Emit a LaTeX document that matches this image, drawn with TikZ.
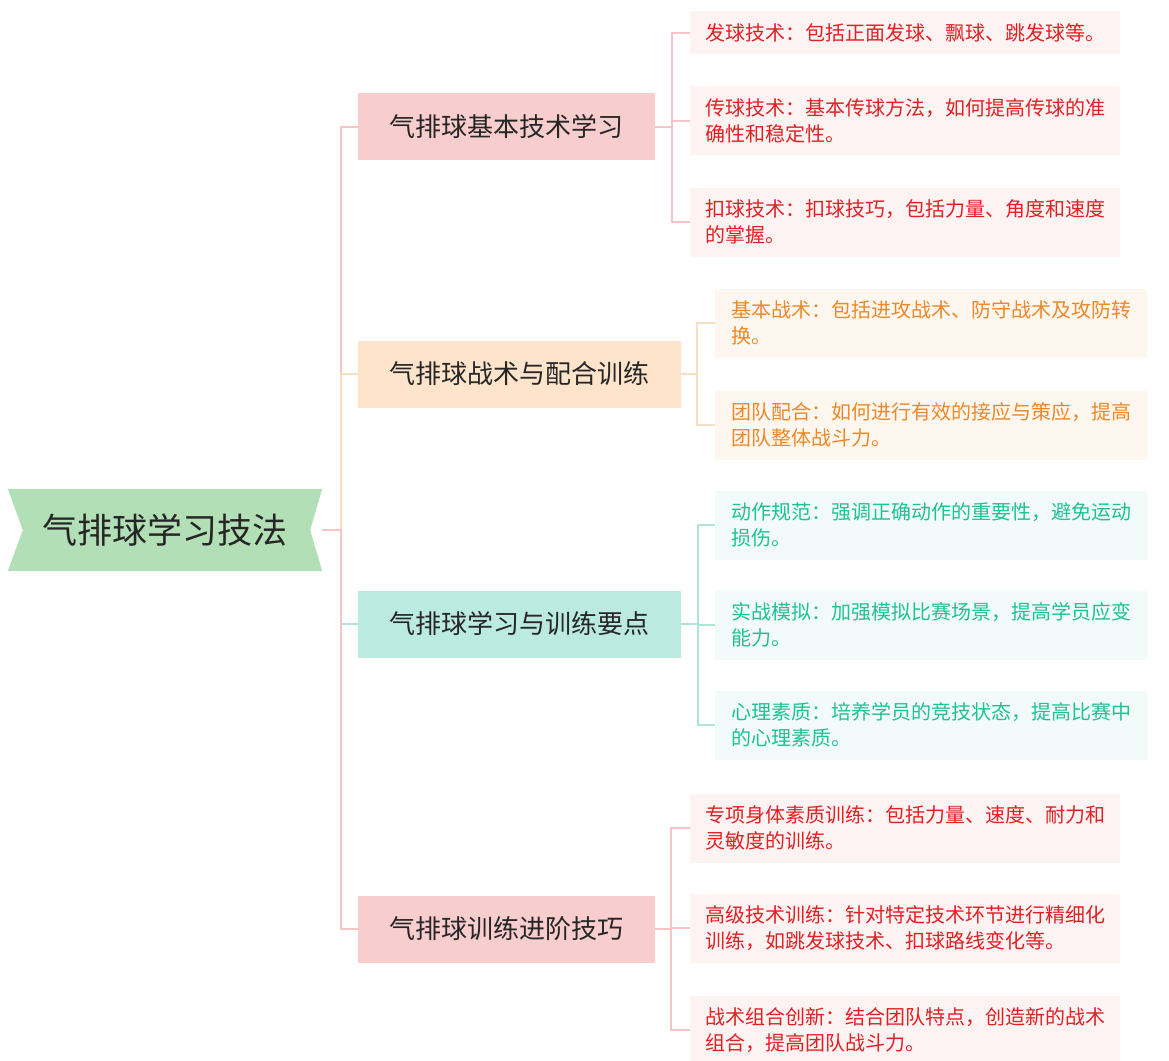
\documentclass[tikz,border=0pt]{standalone}
\usepackage{fontspec}
\setmainfont{Noto Sans CJK SC}
\usepackage{tikz}
\usetikzlibrary{positioning,backgrounds}
\definecolor{rootfill}{RGB}{179,223,182}
\definecolor{pinkfill}{RGB}{248,205,205}
\definecolor{orangefill}{RGB}{253,228,202}
\definecolor{tealfill}{RGB}{187,234,225}
\definecolor{pinkline}{RGB}{245,196,199}
\definecolor{orangeline}{RGB}{251,222,192}
\definecolor{tealline}{RGB}{176,228,216}
\definecolor{pinkleaf}{RGB}{253,243,243}
\definecolor{orangeleaf}{RGB}{254,247,239}
\definecolor{tealleaf}{RGB}{242,251,249}
\definecolor{redtext}{RGB}{226,32,36}
\definecolor{orangetext}{RGB}{238,136,40}
\definecolor{tealtext}{RGB}{30,194,150}
\definecolor{topictext}{RGB}{38,38,38}
\tikzset{root node/.style={minimum width=314pt,minimum height=82pt,inner sep=0pt,font=\fontsize{35}{40}\selectfont,text=topictext}}
\tikzset{topic/.style={anchor=west,inner xsep=31.5pt,inner ysep=0pt,minimum height=67pt,font=\fontsize{26}{30}\selectfont,text=topictext}}
\tikzset{leaf/.style={anchor=west,align=left,inner xsep=13pt,inner ysep=0pt,minimum width=430pt,minimum height=69pt,font=\fontsize{20}{26}\selectfont}}
\tikzset{link/.style={line width=2pt}}

\begin{document}
\begin{tikzpicture}[x=1pt,y=-1pt]
            \useasboundingbox (0,0) rectangle (1169,1060);
            % root ribbon
            \node[root node] (root) at (165,530) {气排球学习技法};
            \begin{scope}[on background layer]
            \fill[rootfill] (root.north west) -- (root.north east) -- ([xshift=-12pt]root.east) -- (root.south east)
                -- (root.south west) -- ([xshift=15pt]root.west) -- cycle;
            \end{scope}
            \coordinate (trunk) at (341,530);

            % main topics
            \node[topic, fill=pinkfill] (b1) at (358,126.5) {气排球基本技术学习};
            \node[topic, fill=orangefill] (b2) at (358,374) {气排球战术与配合训练};
            \node[topic, fill=tealfill] (b3) at (358,624) {气排球学习与训练要点};
            \node[topic, fill=pinkfill] (b4) at (358,929) {气排球训练进阶技巧};

            \coordinate[right=17pt of b1.east] (j1);
            \coordinate[right=16pt of b2.east] (j2);
            \coordinate[right=17pt of b3.east] (j3);
            \coordinate[right=16pt of b4.east] (j4);

            % leaves
            \node[leaf, fill=pinkleaf, text=redtext, minimum height=43pt] (l11) at (690,32.5) {发球技术：包括正面发球、飘球、跳发球等。};
            \node[leaf, fill=pinkleaf, text=redtext] (l12) at (690,120.5) {传球技术：基本传球方法，如何提高传球的准\\确性和稳定性。};
            \node[leaf, fill=pinkleaf, text=redtext] (l13) at (690,222) {扣球技术：扣球技巧，包括力量、角度和速度\\的掌握。};

            \node[leaf, fill=orangeleaf, text=orangetext, minimum width=432pt] (l21) at (715,323) {基本战术：包括进攻战术、防守战术及攻防转\\换。};
            \node[leaf, fill=orangeleaf, text=orangetext, minimum width=432pt] (l22) at (715,425) {团队配合：如何进行有效的接应与策应，提高\\团队整体战斗力。};

            \node[leaf, fill=tealleaf, text=tealtext, minimum width=432pt] (l31) at (715,525) {动作规范：强调正确动作的重要性，避免运动\\损伤。};
            \node[leaf, fill=tealleaf, text=tealtext, minimum width=432pt] (l32) at (715,625) {实战模拟：加强模拟比赛场景，提高学员应变\\能力。};
            \node[leaf, fill=tealleaf, text=tealtext, minimum width=432pt] (l33) at (715,725) {心理素质：培养学员的竞技状态，提高比赛中\\的心理素质。};

            \node[leaf, fill=pinkleaf, text=redtext] (l41) at (690,828) {专项身体素质训练：包括力量、速度、耐力和\\灵敏度的训练。};
            \node[leaf, fill=pinkleaf, text=redtext] (l42) at (690,928) {高级技术训练：针对特定技术环节进行精细化\\训练，如跳发球技术、扣球路线变化等。};
            \node[leaf, fill=pinkleaf, text=redtext] (l43) at (690,1030) {战术组合创新：结合团队特点，创造新的战术\\组合，提高团队战斗力。};

            % connectors
            \draw[link, pinkline] (root.east) -- (trunk) |- (b1.west);
            \draw[link, orangeline] (root.east) -- (trunk) |- (b2.west);
            \draw[link, tealline] (trunk) |- (b3.west);
            \draw[link, pinkline] (root.east) -- (trunk) |- (b4.west);

            \draw[link, pinkline] (b1.east) -- (j1);
            \foreach \l in {l11,l12,l13} \draw[link, pinkline] (j1) |- (\l.west);
            \draw[link, orangeline] (b2.east) -- (j2);
            \foreach \l in {l21,l22} \draw[link, orangeline] (j2) |- (\l.west);
            \draw[link, tealline] (b3.east) -- (j3);
            \foreach \l in {l31,l32,l33} \draw[link, tealline] (j3) |- (\l.west);
            \draw[link, pinkline] (b4.east) -- (j4);
            \foreach \l in {l41,l42,l43} \draw[link, pinkline] (j4) |- (\l.west);
        \end{tikzpicture}
\end{document}
